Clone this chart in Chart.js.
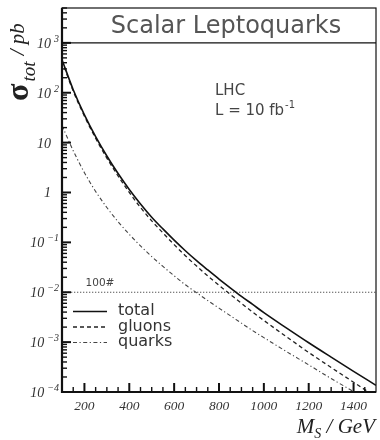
<!DOCTYPE html>
<html lang="en">
<head>
  <meta charset="UTF-8" />
  <title>Scalar Leptoquarks</title>
  <script src="https://cdn.jsdelivr.net/npm/chart.js"></script>
  <style>
    html, body { margin: 0; padding: 0; background: #fff; }
    canvas { display: block; }
  </style>
</head>
<body>
  <canvas id="xsec" width="380" height="440"></canvas>

  <script>
    // leptoquark mass (GeV) and cross sections (pb)
    const masses = [100, 150, 200, 250, 300, 350, 400, 450, 500, 550, 600, 650, 700,
                    750, 800, 850, 900, 950, 1000, 1100, 1200, 1300, 1400, 1500];
    const total  = [460, 115, 36, 13.2, 5.4, 2.4, 1.15, 0.59, 0.32, 0.186, 0.111, 0.068, 0.043,
                    0.028, 0.0184, 0.0123, 0.0083, 0.0057, 0.0039, 0.00193, 0.00097, 0.00050, 0.00026, 0.000136];
    const gluons = [437, 108, 34, 12.2, 4.9, 2.14, 1.0, 0.50, 0.27, 0.155, 0.090, 0.054, 0.0335,
                    0.0212, 0.0138, 0.0091, 0.0060, 0.0040, 0.00272, 0.00129, 0.00062, 0.00031, 0.000157, 0.000079];
    const quarks = [22, 6.9, 2.5, 1.05, 0.50, 0.26, 0.145, 0.085, 0.052, 0.033, 0.0214, 0.0141, 0.0098,
                    0.0068, 0.0048, 0.0034, 0.0024, 0.0017, 0.00123, 0.00065, 0.00035, 0.000186, 0.000102, 0.000056];

    const seriesNames = ['total', 'gluons', 'quarks'];
    const xTicks = [200, 400, 600, 800, 1000, 1200, 1400];
    const yTicks = [1e-4, 1e-3, 1e-2, 1e-1, 1, 10, 100, 1000];
    const yTickLabels = ['10^-4', '10^-3', '10^-2', '10^-1', '1', '10', '10^2', '10^3'];
    const limitLevel = 1e-2;   // dotted "100#" line
    const boxLevel = 1e3;      // line under the title box

    const sans = '"DejaVu Sans", sans-serif';
    const serif = '"Liberation Serif", "DejaVu Serif", serif';

    function pts(vals) {
      return masses.map((m, i) => ({ x: m, y: vals[i] }));
    }

    // frame, inward ticks, tick labels, title box, texts and legend
    const decor = {
      id: 'decor',
      beforeDatasetsDraw(chart) {
        const { ctx, chartArea: a, scales: { x, y } } = chart;
        const yl = y.getPixelForValue(limitLevel);
        ctx.save();
        ctx.strokeStyle = '#555';
        ctx.lineWidth = 1.2;
        ctx.setLineDash([1.3, 1.7]);
        ctx.beginPath();
        ctx.moveTo(a.left, yl);
        ctx.lineTo(a.right, yl);
        ctx.stroke();
        ctx.setLineDash([]);
        ctx.fillStyle = '#444';
        ctx.font = '10.5px ' + sans;
        ctx.fillText('100#', x.getPixelForValue(205), yl - 6);
        ctx.restore();
      },
      afterDraw(chart) {
        const { ctx, chartArea: a, scales: { x, y } } = chart;
        ctx.save();
        ctx.strokeStyle = '#111';

        // ticks on the y axis, pointing inward
        for (let d = -4; d <= 3; d++) {
          for (let k = 1; k <= 9; k++) {
            const v = k * Math.pow(10, d);
            if (v > y.max) break;
            const py = y.getPixelForValue(v);
            ctx.lineWidth = k === 1 ? 2 : 1.4;
            ctx.beginPath();
            ctx.moveTo(a.left, py);
            ctx.lineTo(a.left + (k === 1 ? 9 : 5), py);
            ctx.stroke();
          }
        }
        // ticks on the x axis
        for (let m = 150; m < 1500; m += 50) {
          const px = x.getPixelForValue(m);
          const major = m % 200 === 0;
          ctx.lineWidth = major ? 2 : 1.4;
          ctx.beginPath();
          ctx.moveTo(px, a.bottom);
          ctx.lineTo(px, a.bottom - (major ? 9 : 5));
          ctx.stroke();
        }

        // y tick labels with raised exponents
        ctx.fillStyle = '#333';
        ctx.textAlign = 'right';
        ctx.textBaseline = 'alphabetic';
        yTicks.forEach((v, i) => {
          const py = y.getPixelForValue(v);
          const [base, exp] = yTickLabels[i].split('^');
          if (exp) {
            ctx.font = 'italic 10px ' + serif;
            const expTxt = exp.replace('-', '\u2212');
            const ew = ctx.measureText(expTxt).width;
            ctx.fillText(expTxt, 59, py - 1);
            ctx.font = 'italic 14px ' + serif;
            ctx.fillText(base, 59 - ew - 3, py + 5);
          } else {
            ctx.font = 'italic 14px ' + serif;
            ctx.fillText(base, 51, py + 5);
          }
        });
        ctx.textAlign = 'left';

        // frame
        ctx.lineWidth = 1.2;
        ctx.strokeRect(a.left, a.top, a.right - a.left, a.bottom - a.top);
        ctx.lineWidth = 2.2;
        ctx.beginPath();
        ctx.moveTo(a.left, a.top);
        ctx.lineTo(a.left, a.bottom);
        ctx.lineTo(a.right, a.bottom);
        ctx.stroke();

        // title box
        const yb = y.getPixelForValue(boxLevel);
        ctx.lineWidth = 1.2;
        ctx.beginPath();
        ctx.moveTo(a.left, yb);
        ctx.lineTo(a.right, yb);
        ctx.stroke();
        ctx.fillStyle = '#555';
        ctx.font = '24px ' + sans;
        ctx.textAlign = 'center';
        ctx.fillText('Scalar Leptoquarks', 226, yb - 10);

        // LHC note
        ctx.textAlign = 'left';
        ctx.fillStyle = '#444';
        ctx.font = '15px ' + sans;
        ctx.fillText('LHC', 215, 95);
        const lTxt = 'L = 10 fb';
        ctx.fillText(lTxt, 215, 115);
        const lw = ctx.measureText(lTxt).width;
        ctx.font = '10px ' + sans;
        ctx.fillText('-1', 215 + lw + 1, 108);

        // legend
        const styles = chart.data.datasets;
        ctx.font = '16px ' + sans;
        seriesNames.forEach((name, i) => {
          const ly = 311.5 + i * 15.5;
          const ds = styles[i];
          ctx.strokeStyle = ds.borderColor;
          ctx.lineWidth = ds.borderWidth;
          ctx.setLineDash(ds.borderDash || []);
          ctx.beginPath();
          ctx.moveTo(73, ly);
          ctx.lineTo(107, ly);
          ctx.stroke();
          ctx.setLineDash([]);
          ctx.fillStyle = '#333';
          ctx.fillText(name, 118, ly + 3.5);
        });

        // x axis title: M_S / GeV
        ctx.fillStyle = '#222';
        ctx.font = 'italic 21px ' + serif;
        const mW = ctx.measureText('M').width;
        const restTxt = ' / GeV';
        const restW = ctx.measureText(restTxt).width;
        ctx.font = 'italic 14px ' + serif;
        const sW = ctx.measureText('S').width;
        const tx = 375 - (mW + sW + restW);
        ctx.font = 'italic 21px ' + serif;
        ctx.fillText('M', tx, 433);
        ctx.font = 'italic 14px ' + serif;
        ctx.fillText('S', tx + mW, 438);
        ctx.font = 'italic 21px ' + serif;
        ctx.fillText(restTxt, tx + mW + sW, 433);

        // y axis title: sigma_tot / pb, rotated
        ctx.translate(28, 101);
        ctx.rotate(-Math.PI / 2);
        ctx.font = 'bold 32px ' + serif;
        ctx.fillText('\u03C3', 0, 0);
        const sigW = ctx.measureText('\u03C3').width;
        ctx.font = 'italic 19px ' + serif;
        ctx.fillText('tot', sigW + 2, 7);
        const totW = ctx.measureText('tot').width;
        ctx.font = 'italic 21px ' + serif;
        ctx.fillText(' / pb', sigW + totW + 3, -4);
        ctx.restore();
      }
    };

    const ctx = document.getElementById('xsec').getContext('2d');
    new Chart(ctx, {
      type: 'line',
      data: {
        datasets: [
          { label: seriesNames[0], data: pts(total),  borderColor: '#111', borderWidth: 1.6, borderDash: [] },
          { label: seriesNames[1], data: pts(gluons), borderColor: '#222', borderWidth: 1.3, borderDash: [4, 3] },
          { label: seriesNames[2], data: pts(quarks), borderColor: '#444', borderWidth: 1.1, borderDash: [4, 2.5, 1.2, 2.5] }
        ]
      },
      options: {
        responsive: false,
        animation: false,
        layout: { padding: { top: 8, right: 4, left: 0, bottom: 0 } },
        elements: {
          point: { radius: 0 },
          line: { cubicInterpolationMode: 'monotone', fill: false }
        },
        plugins: {
          legend: { display: false },
          tooltip: { enabled: false }
        },
        scales: {
          x: {
            type: 'linear',
            min: 100,
            max: 1500,
            afterBuildTicks: s => { s.ticks = xTicks.map(v => ({ value: v })); },
            afterFit: s => { s.height = 48; },
            grid: { display: false, drawTicks: false },
            border: { display: false },
            ticks: {
              color: '#333',
              padding: 6,
              maxRotation: 0,
              autoSkip: false,
              font: { family: serif, style: 'italic', size: 13.5 },
              callback: v => String(v)
            }
          },
          y: {
            type: 'logarithmic',
            min: 1e-4,
            max: 5000,
            afterBuildTicks: s => { s.ticks = yTicks.map(v => ({ value: v })); },
            afterFit: s => { s.width = 62; },
            grid: { display: false, drawTicks: false },
            border: { display: false },
            ticks: { display: false }
          }
        }
      },
      plugins: [decor]
    });
  </script>
</body>
</html>
